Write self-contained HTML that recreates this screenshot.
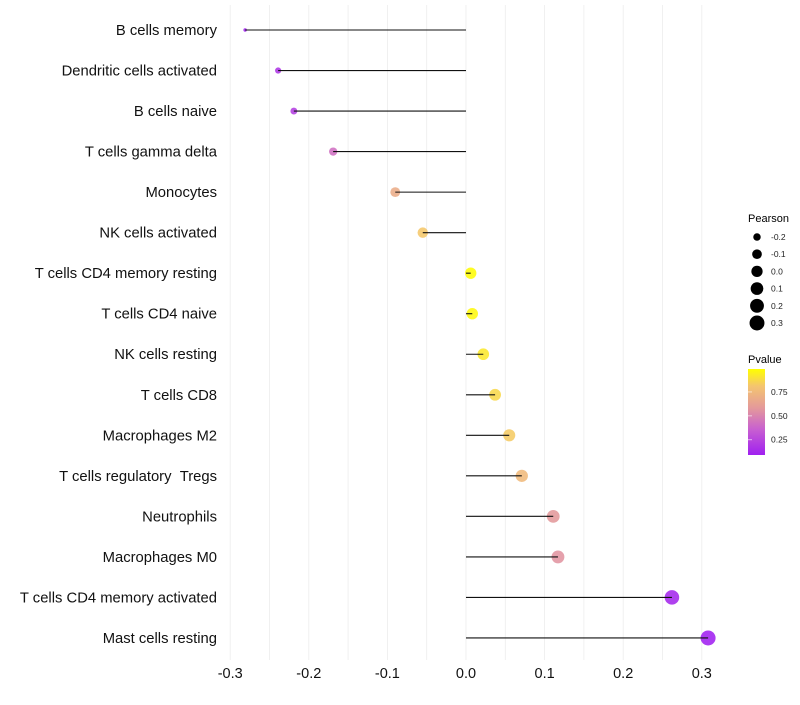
<!DOCTYPE html>
<html><head><meta charset="utf-8"><style>
body{margin:0;background:#fff;font-family:"Liberation Sans",sans-serif}
svg text{font-family:"Liberation Sans",sans-serif}
</style></head><body>
<svg id="chart" width="800" height="700">
<defs><linearGradient id="pg" x1="0" y1="1" x2="0" y2="0">
<stop offset="0" stop-color="#A020F0"/><stop offset="0.3" stop-color="#C860D0"/><stop offset="0.55" stop-color="#E49A9A"/><stop offset="0.8" stop-color="#F4C470"/><stop offset="1" stop-color="#FFFF00"/>
</linearGradient></defs>
<g id="grid"></g><g id="marks"></g><g id="axes"></g>
<g>
<text x="748" y="222" font-size="11">Pearson</text>
<g id="sizeleg"></g>
<text x="748" y="363" font-size="11">Pvalue</text>
<rect x="748" y="369" width="17" height="86" fill="url(#pg)"/>
<g id="colorleg"></g>
</g>
</svg>
<script>
const categories=["B cells memory","Dendritic cells activated","B cells naive","T cells gamma delta","Monocytes","NK cells activated","T cells CD4 memory resting","T cells CD4 naive","NK cells resting","T cells CD8","Macrophages M2","T cells regulatory\u00a0\u00a0Tregs","Neutrophils","Macrophages M0","T cells CD4 memory activated","Mast cells resting"];
const pearson=[-0.281,-0.239,-0.219,-0.169,-0.090,-0.055,0.006,0.008,0.022,0.037,0.055,0.071,0.111,0.117,0.262,0.308];
const pvalue=[0.10,0.18,0.22,0.42,0.68,0.82,0.98,0.97,0.92,0.87,0.83,0.75,0.58,0.56,0.12,0.09];
const xTicks=[-0.3,-0.2,-0.1,0.0,0.1,0.2,0.3];
const sizeLegend=[-0.2,-0.1,0.0,0.1,0.2,0.3];
const colorTicks=[0.25,0.50,0.75];
const NS="http://www.w3.org/2000/svg";
const x=v=>466+v*786;
const y=i=>30+i*40.53;
const r=v=>1.5+6*Math.sqrt(Math.max(0,(v+0.282)/0.59));
const pMin=0.09,pMax=0.99;
const stops=[[0,[160,32,240]],[0.3,[200,96,208]],[0.55,[228,154,154]],[0.8,[244,196,112]],[1,[255,255,0]]];
function col(p){let t=Math.min(1,Math.max(0,(p-pMin)/(pMax-pMin)));for(let k=1;k<stops.length;k++){if(t<=stops[k][0]){const a=stops[k-1],b=stops[k],u=(t-a[0])/(b[0]-a[0]);return "rgb("+a[1].map((c,j)=>Math.round(c+(b[1][j]-c)*u)).join(",")+")";}}return "rgb(255,255,0)";}
function el(t,a,p){const e=document.createElementNS(NS,t);for(const k in a)e.setAttribute(k,a[k]);p.appendChild(e);return e;}
const grid=document.getElementById('grid'),marks=document.getElementById('marks'),axes=document.getElementById('axes');
for(let v=-0.3;v<=0.3001;v+=0.05){const g=el('line',{x1:x(v),x2:x(v),y1:5,y2:660,stroke:'#ececec','stroke-width':0.8},grid);

}
xTicks.forEach(v=>{const t=el('text',{x:x(v),y:678,'font-size':14.5,'text-anchor':'middle',fill:'#111'},axes);t.textContent=v.toFixed(1);

});
categories.forEach((c,i)=>{const t=el('text',{x:217,y:y(i)+5,'font-size':14.8,'text-anchor':'end',fill:'#111'},axes);t.textContent=c;


const d=el('circle',{cx:x(pearson[i]),cy:y(i),r:r(pearson[i]),fill:col(pvalue[i]),'fill-opacity':0.88},marks);


const l=el('line',{x1:x(0),x2:x(pearson[i]),y1:y(i),y2:y(i),stroke:'#111','stroke-width':1.1},marks);

});
const sl=document.getElementById('sizeleg');
sizeLegend.forEach((v,k)=>{const cy=237+k*17.2;const c=el('circle',{cx:757,cy:cy,r:r(v),fill:'#000'},sl);


const t=el('text',{x:771,y:cy+3,'font-size':8.5,fill:'#222'},sl);t.textContent=v.toFixed(1);

});
const cl=document.getElementById('colorleg');
colorTicks.forEach(v=>{const cy=455-(v-pMin)/(pMax-pMin)*86;
const tk=el('line',{x1:748,x2:752,y1:cy,y2:cy,stroke:'#fff','stroke-opacity':0.6},cl);


const t=el('text',{x:771,y:cy+3,'font-size':8.5,fill:'#222'},cl);t.textContent=v.toFixed(2);

});
</script>
</body></html>
